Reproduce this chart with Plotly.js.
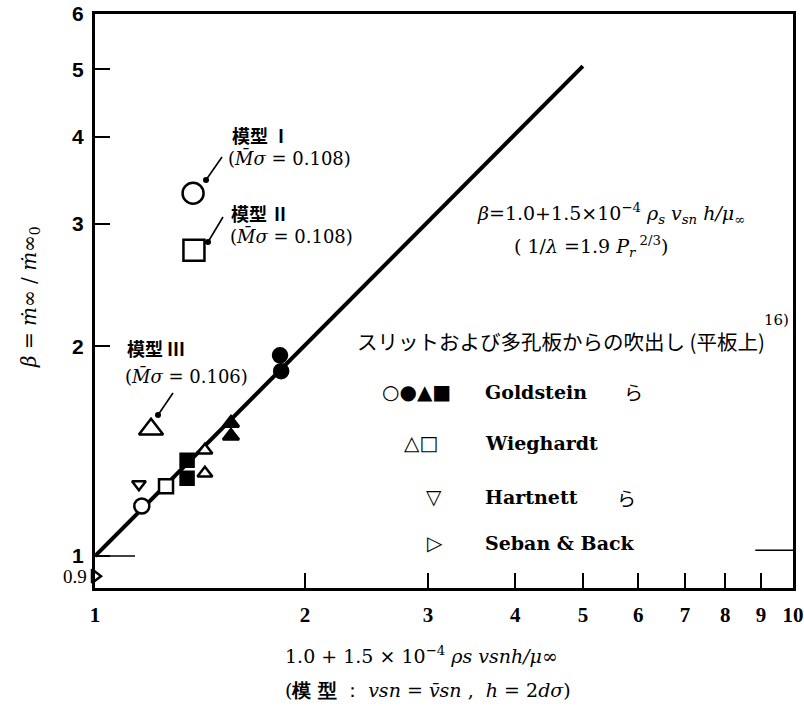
<!DOCTYPE html>
<html>
<head>
<meta charset="utf-8">
<script src="https://cdn.plot.ly/plotly-3.0.1.min.js"></script>
<style>
  body { margin: 0; background: #fff; }
  #chart { width: 804px; height: 706px; }
</style>
</head>
<body>
<div id="chart"></div>
<script>
// correlation line  beta = 1.0 + 1.5e-4 ...
var fitX = [1, 5];
var fitY = [1, 5.05];

// slit / porous plate blowing data (flat plate)
var goldOpenX = [1.167];
var goldOpenY = [1.18];
var goldCircX = [1.841, 1.848];
var goldCircY = [1.942, 1.843];
var goldTriX = [1.566, 1.566];
var goldTriY = [1.552, 1.487];
var goldSqX = [1.355, 1.355];
var goldSqY = [1.373, 1.294];
var wiegTriX = [1.437, 1.437];
var wiegTriY = [1.419, 1.315];
var wiegSqX = [1.264];
var wiegSqY = [1.26];
var hartX = [1.156];
var hartY = [1.268];
var sebanX = [1.0];
var sebanY = [0.936];

// models I, II, III
var modelX = [1.382, 1.386, 1.203];
var modelY = [3.318, 2.748, 1.521];
var modelSymbols = ['circle', 'square', 'triangle-up'];
var modelNames = ['模型 Ⅰ', '模型 Ⅱ', '模型 Ⅲ'];
var modelMach = ['0.108', '0.108', '0.106'];

var xTicks = [1, 2, 3, 4, 5, 6, 7, 8, 9, 10];
var yTicks = [1, 2, 3, 4, 5, 6];

// plot box in pixels, used only to place free text
var L = 95, R = 793, T = 14, B = 588;
var px = (p) => (p - L) / (R - L);
var py = (p) => (B - p) / (B - T);

var serif = 'DejaVu Serif';
var jp = 'Noto Sans CJK JP';

function pts(x, y, symbol, size, filled) {
    return {
        x: x, y: y, type: 'scatter', mode: 'markers', showlegend: false,
        cliponaxis: false,
        marker: {
            symbol: symbol, size: size,
            color: filled ? 'black' : 'white',
            line: {color: 'black', width: 2.5}
        }
    };
}

var traces = [
    {x: fitX, y: fitY, type: 'scatter', mode: 'lines', showlegend: false,
     line: {color: 'black', width: 4}},
    pts(goldOpenX, goldOpenY, 'circle', 15, false),
    pts(goldCircX, goldCircY, 'circle', 14, true),
    pts(goldTriX, goldTriY, 'triangle-up', 14, true),
    pts(goldSqX, goldSqY, 'square', 13, true),
    pts(wiegTriX, wiegTriY, 'triangle-up', 13, false),
    pts(wiegSqX, wiegSqY, 'square', 14, false),
    pts(hartX, hartY, 'triangle-down', 12, false),
    pts(sebanX, sebanY, 'triangle-right', 12, false)
];
modelX.forEach((x, i) => {
    traces.push(pts([x], [modelY[i]], modelSymbols[i], 21, false));
});

function txt(x, y, text, size, opts) {
    return Object.assign({
        xref: 'paper', yref: 'paper', x: px(x), y: py(y),
        xanchor: 'left', yanchor: 'middle', showarrow: false,
        text: text, font: {family: serif, size: size, color: 'black'}
    }, opts || {});
}

var modelTextY = [[135, 158], [213, 236], [348, 376]];
var modelTextX = [[230, 226], [229, 228], [125, 123]];
// arrow: tail (px) -> tip with dot next to each model marker
var arrows = [[222, 157, 206, 180], [223, 217, 208, 242], [173, 393, 158, 415]];

var ann = [];
var shapes = [
    {type: 'line', xref: 'x', yref: 'y', x0: 1, x1: 1.141, y0: 1, y1: 1,
     line: {color: 'black', width: 1.5}},
    {type: 'line', xref: 'x', yref: 'y', x0: 8.83, x1: 10, y0: 1.02, y1: 1.02,
     line: {color: 'black', width: 1.5}}
];
modelNames.forEach((name, i) => {
    ann.push(txt(modelTextX[i][0], modelTextY[i][0], '<b>' + name + '</b>', 18,
                 {font: {family: jp, size: 18, color: 'black'}}));
    ann.push(txt(modelTextX[i][1], modelTextY[i][1],
                 '(<i>M̄σ</i> = ' + modelMach[i] + ')', 18));
    var a = arrows[i];
    shapes.push({type: 'line', xref: 'paper', yref: 'paper',
                 x0: px(a[0]), y0: py(a[1]), x1: px(a[2]), y1: py(a[3]),
                 line: {color: 'black', width: 1.6}});
    shapes.push({type: 'circle', xref: 'paper', yref: 'paper',
                 x0: px(a[2] - 3), x1: px(a[2] + 3), y0: py(a[3] - 3), y1: py(a[3] + 3),
                 fillcolor: 'black', line: {color: 'black', width: 0}});
});

ann.push(txt(475, 213,
    '<i>β</i>=1.0+1.5×10<sup>−4</sup> <i>ρ<sub>s</sub> v<sub>sn</sub> h/μ<sub>∞</sub></i>', 19));
ann.push(txt(512, 246, '( 1/<i>λ</i> =1.9 <i>P<sub>r</sub></i><sup> 2/3</sup>)', 19));

ann.push(txt(355, 341, 'スリットおよび多孔板からの吹出し (平板上)', 20.5,
             {font: {family: jp, size: 20.5, color: 'black'}}));
ann.push(txt(762, 320, '16)', 15));

// legend rows
var legSym = ['○●▲■', '△□', '▽', '▷'];
var legSymX = [380, 402, 424, 425];
var legName = ['Goldstein', 'Wieghardt', 'Hartnett', 'Seban &amp; Back'];
var legY = [392, 443, 497, 543];
legSym.forEach((s, i) => {
    ann.push(txt(legSymX[i], legY[i], '<b>' + s + '</b>', 20,
                 {font: {family: 'DejaVu Sans', size: 20, color: 'black'}}));
    ann.push(txt(483, legY[i], '<b>' + legName[i] + '</b>', 19));
});
ann.push(txt(622, 392, 'ら', 19, {font: {family: jp, size: 19, color: 'black'}}));
ann.push(txt(615, 497, 'ら', 19, {font: {family: jp, size: 19, color: 'black'}}));

// 0.9 label sits just above the bottom edge
ann.push(txt(89, 576, '0.9', 18, {xanchor: 'right', font: {family: 'Liberation Serif', size: 19, color: 'black'}}));

// axis titles
ann.push(txt(283, 655, '1.0 + 1.5 × 10<sup>−4</sup> <i>ρs vsnh/μ∞</i>', 19));
ann.push(txt(283, 690, '(<b>模 型</b> ： <i>vsn</i> = <i>v̄sn</i> ,  <i>h</i> = 2<i>dσ</i>)', 19));
ann.push(txt(30, 297, '<i>β</i> = <i>ṁ</i>∞ / <i>ṁ</i>∞<sub>0</sub>', 20,
             {xanchor: 'center', textangle: -90}));

var layout = {
    width: 804, height: 706,
    margin: {l: L, r: 804 - R, t: T, b: 706 - B},
    paper_bgcolor: 'white', plot_bgcolor: 'white',
    xaxis: {
        type: 'log', range: [0, 1],
        tickvals: xTicks, ticktext: xTicks.map(String),
        ticks: 'inside', ticklen: 15, tickwidth: 2, tickcolor: 'black',
        showline: true, linewidth: 3, linecolor: 'black', mirror: true,
        showgrid: false, zeroline: false, ticklabelstandoff: 6,
        tickfont: {family: 'Liberation Serif', size: 21, weight: 'bold', color: 'black'}
    },
    yaxis: {
        type: 'log', range: [Math.log10(0.9), Math.log10(6)],
        tickvals: yTicks, ticktext: yTicks.map(String),
        ticks: 'inside', ticklen: 15, tickwidth: 2, tickcolor: 'black',
        showline: true, linewidth: 3, linecolor: 'black', mirror: true,
        showgrid: false, zeroline: false, ticklabelstandoff: 4,
        tickfont: {family: 'Liberation Sans', size: 21, weight: 'bold', color: 'black'}
    },
    shapes: shapes,
    annotations: ann
};

Plotly.newPlot('chart', traces, layout, {displayModeBar: false, staticPlot: true});
</script>
</body>
</html>
